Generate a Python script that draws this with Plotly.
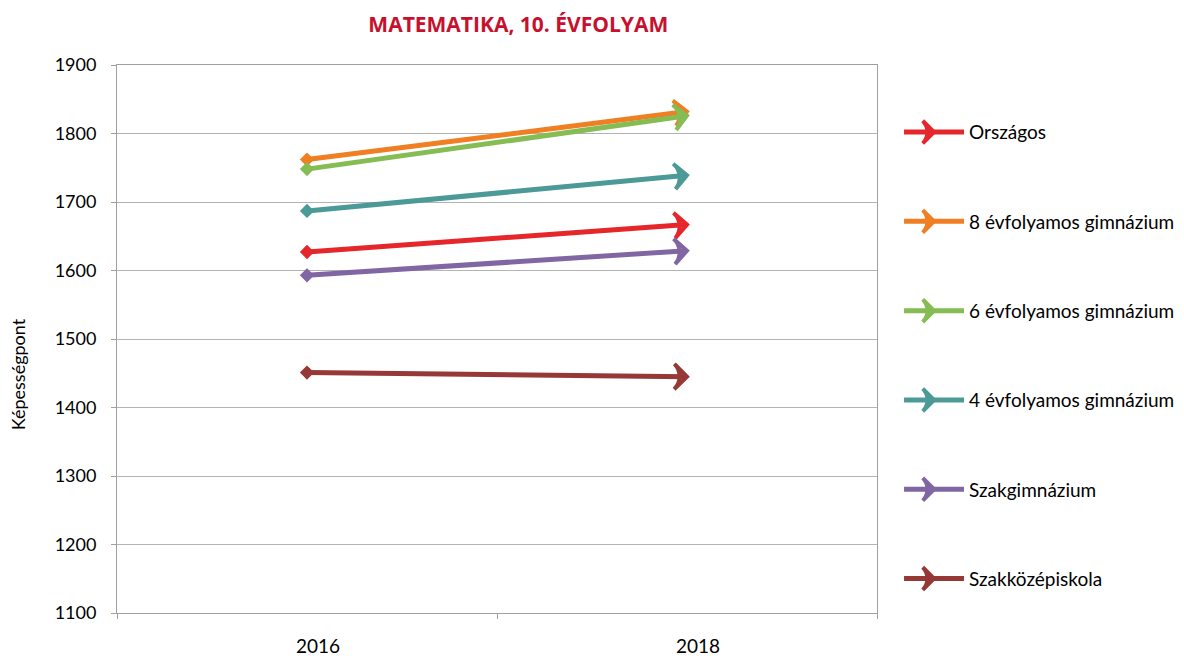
import plotly.graph_objects as go

years = ["2016", "2018"]
series_names = ["Országos", "8 évfolyamos gimnázium", "6 évfolyamos gimnázium",
                "4 évfolyamos gimnázium", "Szakgimnázium", "Szakközépiskola"]
orszagos = [1627, 1667]
gimn8 = [1762, 1832]
gimn6 = [1748, 1826]
gimn4 = [1687, 1739]
szakgimn = [1593, 1629]
szakkozep = [1451, 1445]
y_ticks = [1100, 1200, 1300, 1400, 1500, 1600, 1700, 1800, 1900]

colors = ["#E5262A", "#F07E22", "#85BC53", "#4B9A97", "#8066A3", "#953836"]
values = [orszagos, gimn8, gimn6, gimn4, szakgimn, szakkozep]

FONT = "Lato"

fig = go.Figure()
for name, vals, col in zip(series_names, values, colors):
    # line with arrowhead at the end
    fig.add_trace(go.Scatter(
        x=years, y=vals, name=name, mode="lines+markers",
        legendgroup=name,
        line=dict(color=col, width=5),
        marker=dict(symbol="arrow-wide-open", size=18, opacity=1,
                    angleref="previous", color=col,
                    line=dict(color=col, width=4)),
    ))
    # diamond at the start
    fig.add_trace(go.Scatter(
        x=years[:1], y=vals[:1], mode="markers", legendgroup=name,
        showlegend=False, hoverinfo="skip",
        marker=dict(symbol="diamond", size=11, color=col, opacity=1,
                    line=dict(width=0)),
    ))

fig.add_annotation(text="Képességpont", textangle=-90, xref="paper", yref="paper",
                   x=-0.130, y=0.436, xanchor="center", yanchor="middle",
                   showarrow=False, font=dict(size=18))

fig.update_layout(
    width=1184, height=659,
    margin=dict(l=109, r=315, t=57, b=54),
    paper_bgcolor="white", plot_bgcolor="white",
    font=dict(family=FONT, size=18, color="black"),
    title=dict(text="<b>MATEMATIKA, 10. ÉVFOLYAM</b>", x=0.528, xref="paper",
               xanchor="center", y=0.975, yanchor="middle", automargin=False,
               font=dict(family="Open Sans", size=21, color="#C8102E")),
    showlegend=True,
    legend=dict(x=1.029, y=0.912, xanchor="left", yanchor="top",
                tracegroupgap=61.6, font=dict(size=19),
                itemwidth=60),
    xaxis=dict(type="category", range=[-0.5, 1.5], tickson="boundaries",
               ticks="outside", ticklen=5, tickcolor="#A0A0A0",
               showline=True, linecolor="#A0A0A0", linewidth=1, mirror=True,
               showgrid=False, tickfont=dict(size=19), automargin=False,
               ticklabelstandoff=16, ticklabelshift=11),
    yaxis=dict(range=[1100, 1900], tickvals=y_ticks, ticks="outside", ticklen=5,
               tickcolor="#A0A0A0", showline=True, linecolor="#A0A0A0",
               linewidth=1, mirror=True, gridcolor="#B3B3B3", gridwidth=1,
               automargin=False, ticklabelstandoff=11,
               tickfont=dict(size=18)),
)

fig.write_html("out.html")
